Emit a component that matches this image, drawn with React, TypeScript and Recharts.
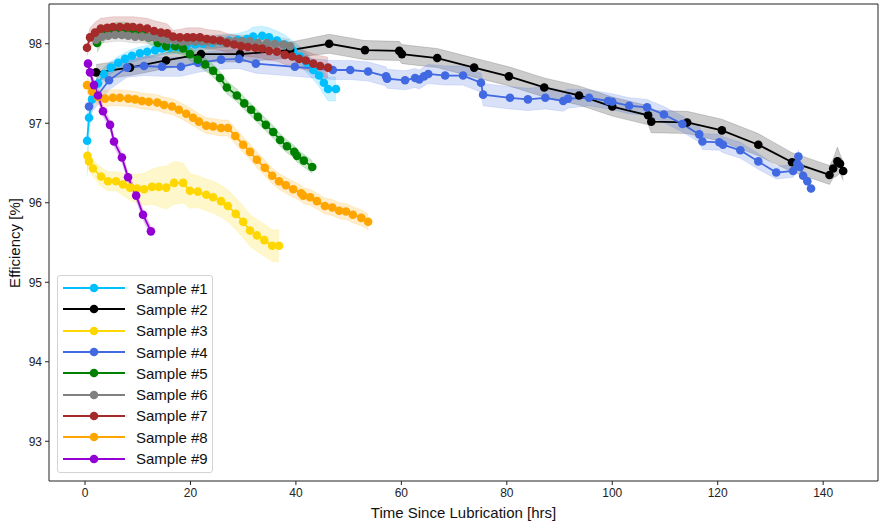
import React from 'react';
import { ComposedChart, Line, Area, XAxis, YAxis, Legend, ReferenceLine } from 'recharts';

const FONT = '"Liberation Sans", Arial, sans-serif';

const SAMPLE_NAMES = ['Sample #1', 'Sample #2', 'Sample #3', 'Sample #4', 'Sample #5', 'Sample #6', 'Sample #7', 'Sample #8', 'Sample #9'];
const COLORS = ['#00BFFF', '#000000', '#FFD700', '#4169E1', '#008000', '#808080', '#A52A2A', '#FFA500', '#9400D3'];

const X_TICKS = [0, 20, 40, 60, 80, 100, 120, 140];
const Y_TICKS = [93, 94, 95, 96, 97, 98];
const X_DOMAIN = [-6.83, 150.4];
const Y_DOMAIN = [92.5, 98.5];

// Sample #1
const s1X = [0.4, 0.76, 1.33, 2.47, 3.6, 4.9, 6.3, 7.6, 8.9, 10.4, 11.8, 13.3, 14.6, 16.1, 17.6, 19.2, 20.9, 22.4, 24.1, 25.6, 27.3, 29.0, 30.7, 31.9, 33.6, 34.9, 36.4, 37.9, 39.5, 40.8, 42.0, 43.3, 44.4, 45.3, 46.1, 47.6];
const s1Y = [96.78, 97.07, 97.30, 97.50, 97.62, 97.70, 97.76, 97.81, 97.85, 97.88, 97.90, 97.92, 97.94, 97.95, 97.96, 97.97, 97.99, 98.00, 98.01, 98.03, 98.04, 98.05, 98.06, 98.09, 98.10, 98.08, 98.04, 97.99, 97.91, 97.84, 97.76, 97.67, 97.60, 97.51, 97.43, 97.43];
const s1Err = [0.45, 0.2, 0.12, 0.1, 0.08, 0.08, 0.08, 0.08, 0.08, 0.08, 0.08, 0.08, 0.08, 0.08, 0.08, 0.08, 0.08, 0.08, 0.08, 0.08, 0.08, 0.08, 0.1, 0.12, 0.12, 0.12, 0.12, 0.12, 0.12, 0.12, 0.12, 0.12, 0.14, 0.15, 0.15, 0.15];

// Sample #2
const s2X = [2.09, 8.54, 15.37, 22.0, 29.4, 38.9, 46.3, 53.1, 59.6, 60.1, 66.8, 73.8, 80.4, 87.1, 93.7, 100.0, 106.8, 107.4, 114.2, 120.8, 127.7, 134.1, 141.2, 141.9, 142.7, 143.2, 143.8];
const s2Y = [97.64, 97.70, 97.79, 97.87, 97.87, 97.92, 98.0, 97.92, 97.91, 97.87, 97.82, 97.70, 97.59, 97.45, 97.35, 97.21, 97.10, 97.02, 97.01, 96.91, 96.73, 96.51, 96.35, 96.43, 96.52, 96.49, 96.40];
const s2Err = [0.1, 0.1, 0.1, 0.1, 0.1, 0.1, 0.12, 0.12, 0.12, 0.12, 0.12, 0.12, 0.12, 0.12, 0.12, 0.12, 0.12, 0.14, 0.14, 0.14, 0.14, 0.12, 0.12, 0.12, 0.18, 0.12, 0.12];

// Sample #3
const s3X = [0.47, 0.76, 1.52, 3.04, 4.36, 5.88, 7.2, 8.54, 9.87, 11.2, 12.7, 14.0, 15.4, 16.9, 18.6, 19.9, 21.4, 23.0, 24.3, 25.8, 27.1, 28.6, 30.0, 31.3, 32.6, 34.0, 35.5, 36.8];
const s3Y = [96.59, 96.52, 96.43, 96.33, 96.27, 96.27, 96.23, 96.19, 96.18, 96.17, 96.20, 96.20, 96.19, 96.25, 96.25, 96.15, 96.14, 96.10, 96.07, 96.02, 95.96, 95.86, 95.76, 95.65, 95.59, 95.53, 95.46, 95.46];
const s3Err = [0.1, 0.1, 0.1, 0.12, 0.12, 0.12, 0.14, 0.16, 0.18, 0.2, 0.22, 0.25, 0.27, 0.27, 0.25, 0.22, 0.2, 0.2, 0.2, 0.2, 0.2, 0.2, 0.2, 0.2, 0.2, 0.2, 0.2, 0.2];

// Sample #4
const s4X = [0.76, 4.55, 7.97, 11.19, 14.6, 18.2, 21.4, 25.8, 29.2, 32.4, 39.8, 47.0, 50.3, 53.7, 57.1, 57.3, 60.7, 62.6, 63.4, 64.3, 65.1, 68.3, 71.7, 75.1, 75.5, 80.6, 84.0, 87.3, 90.7, 91.6, 95.6, 99.2, 100.0, 103.2, 106.6, 109.8, 113.3, 116.5, 117.1, 120.3, 121.0, 124.3, 127.7, 131.1, 134.3, 135.1, 135.3, 135.6, 136.2, 137.0, 137.7];
const s4Y = [97.21, 97.54, 97.70, 97.72, 97.71, 97.71, 97.76, 97.80, 97.81, 97.75, 97.71, 97.67, 97.67, 97.65, 97.59, 97.56, 97.54, 97.57, 97.55, 97.59, 97.62, 97.60, 97.60, 97.51, 97.36, 97.32, 97.30, 97.32, 97.28, 97.31, 97.32, 97.28, 97.27, 97.22, 97.20, 97.11, 96.99, 96.86, 96.77, 96.76, 96.73, 96.66, 96.52, 96.38, 96.40, 96.49, 96.58, 96.45, 96.34, 96.27, 96.18];
const s4Err = [0.12, 0.12, 0.12, 0.12, 0.12, 0.12, 0.12, 0.12, 0.12, 0.12, 0.12, 0.12, 0.12, 0.12, 0.12, 0.12, 0.12, 0.12, 0.12, 0.12, 0.12, 0.12, 0.12, 0.12, 0.14, 0.14, 0.14, 0.14, 0.13, 0.12, 0.1, 0.1, 0.1, 0.1, 0.1, 0.1, 0.1, 0.1, 0.1, 0.1, 0.1, 0.1, 0.1, 0.08, 0.08, 0.08, 0.08, 0.06, 0.06, 0.06, 0.06];

// Sample #5
const s5X = [2.28, 3.2, 4.2, 5.3, 6.5, 7.6, 8.7, 9.9, 11.0, 12.1, 13.8, 15.4, 17.1, 18.6, 19.9, 21.4, 22.8, 24.3, 25.6, 26.9, 28.8, 30.2, 31.5, 32.8, 34.3, 35.7, 37.0, 38.3, 39.7, 40.2, 41.5, 43.1];
const s5Y = [98.01, 98.10, 98.15, 98.18, 98.19, 98.19, 98.18, 98.15, 98.13, 98.08, 98.01, 97.97, 97.97, 97.94, 97.87, 97.80, 97.74, 97.66, 97.57, 97.45, 97.35, 97.25, 97.17, 97.08, 96.98, 96.89, 96.79, 96.71, 96.64, 96.59, 96.53, 96.45];
const s5Err = [0.12, 0.1, 0.08, 0.08, 0.08, 0.08, 0.08, 0.08, 0.08, 0.08, 0.08, 0.08, 0.08, 0.08, 0.08, 0.08, 0.08, 0.08, 0.08, 0.08, 0.08, 0.08, 0.08, 0.08, 0.08, 0.08, 0.08, 0.08, 0.08, 0.08, 0.08, 0.08];

// Sample #6
const s6X = [2.09, 3.2, 4.4, 5.7, 7.0, 8.2, 9.5, 10.8, 12.0, 13.3, 14.6, 15.7, 17.1, 18.4, 19.5, 20.9, 22.2, 23.3, 24.7, 26.0, 27.1, 28.5, 29.8, 31.3, 32.8, 34.5, 36.0, 37.6, 38.9];
const s6Y = [98.05, 98.09, 98.10, 98.11, 98.11, 98.10, 98.09, 98.09, 98.08, 98.08, 98.06, 98.05, 98.04, 98.03, 98.03, 98.03, 98.03, 98.03, 98.03, 98.03, 98.03, 98.03, 98.03, 98.03, 98.01, 98.01, 98.00, 97.99, 97.97];
const s6Err = [0.08, 0.08, 0.08, 0.08, 0.08, 0.08, 0.08, 0.08, 0.08, 0.08, 0.08, 0.08, 0.08, 0.08, 0.08, 0.08, 0.08, 0.08, 0.08, 0.08, 0.08, 0.08, 0.08, 0.08, 0.08, 0.08, 0.08, 0.08, 0.08];

// Sample #7
const s7X = [0.38, 0.95, 1.9, 3.0, 4.2, 5.3, 6.6, 8.0, 9.1, 10.4, 11.8, 13.1, 14.4, 15.6, 16.7, 18.0, 19.4, 20.5, 21.8, 23.1, 24.3, 25.6, 26.9, 28.3, 29.6, 30.9, 32.3, 33.6, 34.9, 36.4, 37.9, 39.3, 40.6, 41.9, 43.3, 44.6, 46.1];
const s7Y = [97.95, 98.08, 98.14, 98.19, 98.20, 98.21, 98.21, 98.21, 98.21, 98.20, 98.19, 98.16, 98.14, 98.13, 98.09, 98.08, 98.08, 98.08, 98.08, 98.06, 98.05, 98.04, 98.01, 97.99, 97.97, 97.96, 97.95, 97.94, 97.91, 97.90, 97.86, 97.84, 97.81, 97.79, 97.75, 97.72, 97.70];
const s7Err = [0.1, 0.12, 0.13, 0.13, 0.13, 0.13, 0.13, 0.13, 0.13, 0.13, 0.13, 0.13, 0.13, 0.12, 0.08, 0.1, 0.12, 0.12, 0.12, 0.12, 0.12, 0.12, 0.12, 0.12, 0.12, 0.12, 0.12, 0.12, 0.12, 0.12, 0.12, 0.12, 0.12, 0.12, 0.12, 0.13, 0.13];

// Sample #8
const s8X = [0.38, 1.33, 2.47, 3.8, 5.3, 6.6, 8.2, 9.5, 10.8, 12.1, 13.7, 15.0, 16.5, 17.8, 19.2, 20.5, 21.6, 23.0, 24.3, 25.8, 27.1, 28.5, 30.0, 31.3, 32.6, 34.1, 35.5, 36.8, 38.1, 39.5, 41.0, 41.4, 42.7, 44.0, 45.5, 46.9, 48.2, 49.5, 50.8, 52.4, 53.7];
const s8Y = [97.48, 97.40, 97.33, 97.31, 97.32, 97.32, 97.31, 97.30, 97.28, 97.27, 97.26, 97.23, 97.21, 97.17, 97.12, 97.07, 97.02, 96.97, 96.96, 96.94, 96.94, 96.84, 96.73, 96.64, 96.54, 96.44, 96.34, 96.27, 96.22, 96.17, 96.12, 96.09, 96.07, 96.02, 95.96, 95.94, 95.90, 95.89, 95.85, 95.81, 95.76];
const s8Err = [0.1, 0.1, 0.1, 0.1, 0.1, 0.1, 0.1, 0.1, 0.1, 0.1, 0.1, 0.1, 0.1, 0.1, 0.1, 0.1, 0.1, 0.1, 0.1, 0.1, 0.1, 0.1, 0.1, 0.1, 0.1, 0.1, 0.1, 0.1, 0.1, 0.1, 0.1, 0.1, 0.1, 0.1, 0.1, 0.1, 0.1, 0.1, 0.1, 0.1, 0.1];

// Sample #9
const s9X = [0.57, 0.95, 1.71, 2.47, 3.41, 4.74, 5.5, 7.0, 8.16, 9.7, 11.0, 12.5];
const s9Y = [97.75, 97.64, 97.48, 97.35, 97.15, 96.98, 96.77, 96.57, 96.32, 96.09, 95.85, 95.64];
const s9Err = [0.06, 0.06, 0.06, 0.06, 0.06, 0.06, 0.06, 0.06, 0.06, 0.06, 0.06, 0.06];

const toRows = (xs: number[], ys: number[], errs: number[]) =>
  xs.map((x, i) => ({ x, y: ys[i], band: [ys[i] - errs[i], ys[i] + errs[i]] }));

const SERIES = [
  toRows(s1X, s1Y, s1Err),
  toRows(s2X, s2Y, s2Err),
  toRows(s3X, s3Y, s3Err),
  toRows(s4X, s4Y, s4Err),
  toRows(s5X, s5Y, s5Err),
  toRows(s6X, s6Y, s6Err),
  toRows(s7X, s7Y, s7Err),
  toRows(s8X, s8Y, s8Err),
  toRows(s9X, s9Y, s9Err),
].map((rows, i) => ({ name: SAMPLE_NAMES[i], color: COLORS[i], rows }));

const renderLegend = () => (
  <div
    style={{
      boxSizing: 'border-box',
      width: 156,
      height: 198,
      border: '1px solid #d3d3d3',
      borderRadius: 3,
      background: 'rgba(255,255,255,0.85)',
      paddingTop: 1.5,
    }}
  >
    {SERIES.map((s) => (
      <div key={s.name} style={{ height: 21.3, display: 'flex', alignItems: 'center' }}>
        <svg width={70} height={12} style={{ display: 'block' }}>
          <line x1={5} x2={67} y1={6} y2={6} stroke={s.color} strokeWidth={1.8} />
          <circle cx={36} cy={6} r={4.3} fill={s.color} />
        </svg>
        <span style={{ marginLeft: 8, fontSize: 15, fontFamily: FONT, color: '#111', lineHeight: '15px' }}>{s.name}</span>
      </div>
    ))}
  </div>
);

export default function App() {
  return (
    <div style={{ position: 'absolute', left: 0, top: 0, width: 879, height: 526, background: '#fff' }}>
      <ComposedChart width={879} height={526} margin={{ top: 4, right: 1, bottom: 0, left: 0 }}>
        <XAxis
          type="number"
          dataKey="x"
          domain={X_DOMAIN}
          ticks={X_TICKS}
          allowDataOverflow
          height={45}
          tickSize={4}
          tickMargin={3}
          stroke="#222"
          tick={{ fill: '#222', fontSize: 12, fontFamily: FONT }}
          label={{ value: 'Time Since Lubrication [hrs]', position: 'insideBottom', offset: 8, fill: '#111', fontSize: 15, fontFamily: FONT }}
        />
        <YAxis
          type="number"
          domain={Y_DOMAIN}
          ticks={Y_TICKS}
          allowDataOverflow
          width={49}
          tickSize={4}
          tickMargin={3}
          stroke="#222"
          tick={{ fill: '#222', fontSize: 12, fontFamily: FONT }}
          label={{
            content: () => (
              <text x={14} y={243} transform="rotate(-90 14 243)" textAnchor="middle" dominantBaseline="central" fill="#111" fontSize={15} fontFamily={FONT}>
                Efficiency [%]
              </text>
            ),
          }}
        />
        <ReferenceLine y={Y_DOMAIN[1]} stroke="#222" strokeWidth={1} ifOverflow="visible" />
        <ReferenceLine x={X_DOMAIN[1]} stroke="#222" strokeWidth={1} ifOverflow="visible" />
        {SERIES.map((s) => (
          <Area
            key={'band-' + s.name}
            data={s.rows}
            dataKey="band"
            type="linear"
            fill={s.color}
            fillOpacity={0.2}
            stroke={s.color}
            strokeOpacity={0.15}
            strokeWidth={1}
            isAnimationActive={false}
            legendType="none"
            activeDot={false}
            dot={false}
          />
        ))}
        {SERIES.map((s) => (
          <Line
            key={'line-' + s.name}
            data={s.rows}
            dataKey="y"
            name={s.name}
            type="linear"
            stroke={s.color}
            strokeWidth={1.8}
            dot={{ r: 4.3, fill: s.color, stroke: s.color, strokeWidth: 0 }}
            activeDot={false}
            isAnimationActive={false}
          />
        ))}
        <Legend
          layout="horizontal"
          verticalAlign="middle"
          align="center"
          content={renderLegend}
          wrapperStyle={{ left: 57, top: 275, width: 156, height: 198 }}
        />
      </ComposedChart>
    </div>
  );
}
